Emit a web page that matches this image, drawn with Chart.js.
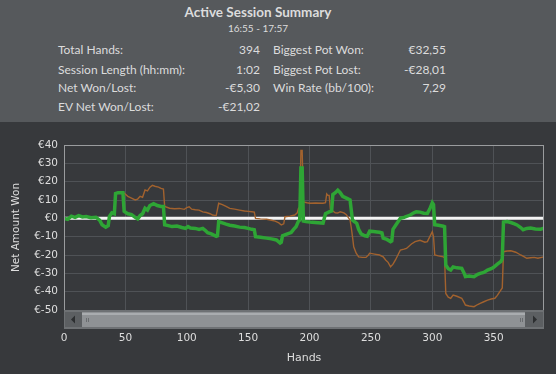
<!DOCTYPE html>
<html>
<head>
    <meta charset="utf-8" />
    <title>Active Session Summary</title>
    <script src="https://cdn.jsdelivr.net/npm/chart.js"></script>
    <style>
        body {
            margin: 0;
            width: 556px;
            height: 374px;
            background-color: #37393c;
            overflow: hidden;
        }
        .header {
            position: relative;
            height: 122px;
            background-color: #56595c;
            font-family: Lato, "Open Sans", sans-serif;
            color: #dcdcdc;
        }
        .header span {
            position: absolute;
            white-space: nowrap;
            line-height: 1;
        }
        .title {
            left: 0;
            width: 516px;
            top: 6px;
            text-align: center;
            font-weight: bold;
            font-size: 13.5px;
        }
        .subtitle {
            left: 0;
            width: 516px;
            top: 23px;
            text-align: center;
            font-size: 10px;
        }
        .lbl { font-size: 12px; }
        .val { font-size: 12px; text-align: right; }
        .chart-box {
            position: relative;
            width: 556px;
            height: 252px;
        }
    </style>
</head>
<body>
    <div class="header">
        <span class="title">Active Session Summary</span>
        <span class="subtitle">16:55 - 17:57</span>

        <span class="lbl" style="left:58px;top:44px">Total Hands:</span>
        <span class="val" style="right:296px;top:44px">394</span>
        <span class="lbl" style="left:58px;top:64px">Session Length (hh:mm):</span>
        <span class="val" style="right:296px;top:64px">1:02</span>
        <span class="lbl" style="left:58px;top:82px">Net Won/Lost:</span>
        <span class="val" style="right:296px;top:82px">-€5,30</span>
        <span class="lbl" style="left:58px;top:101px">EV Net Won/Lost:</span>
        <span class="val" style="right:296px;top:101px">-€21,02</span>

        <span class="lbl" style="left:273px;top:44px">Biggest Pot Won:</span>
        <span class="val" style="right:110px;top:44px">€32,55</span>
        <span class="lbl" style="left:273px;top:64px">Biggest Pot Lost:</span>
        <span class="val" style="right:110px;top:64px">-€28,01</span>
        <span class="lbl" style="left:273px;top:82px">Win Rate (bb/100):</span>
        <span class="val" style="right:110px;top:82px">7,29</span>
    </div>
    <div class="chart-box">
        <canvas id="sessionChart" width="556" height="252"></canvas>
    </div>
    <script>
        // tick labels
        const xTicks = [0, 50, 100, 150, 200, 250, 300, 350];
        const yTicks = [40, 30, 20, 10, 0, -10, -20, -30, -40, -50];
        const maxHand = 391;

        // net amount won, sampled from the graph (hand number / euros)
        const netHands = [0, 3, 6, 9, 12, 15, 18, 22, 26, 29, 31, 34, 36, 37, 39, 41, 42, 44, 48, 49,
            52, 55, 58, 60, 62, 64, 66, 68, 70, 73, 76, 79, 81, 82, 85, 88, 92, 96, 99, 101,
            103, 107, 110, 113, 115, 117, 120, 124, 125, 126, 129, 132, 135, 139, 143, 147, 150, 153, 155, 156,
            160, 165, 169, 173, 176, 177, 178, 182, 185, 187, 189, 191, 192, 193, 194, 195, 197, 202, 207, 211,
            213, 216, 218, 219, 221, 223, 225, 227, 230, 233, 235, 237, 238.5, 240, 242, 245, 247, 249, 252, 255,
            257, 259, 260, 263, 266, 267, 268, 271, 274, 277, 282, 285, 287, 290, 293, 296, 298, 300, 301, 302,
            305, 309, 310, 311, 313, 315, 317, 320, 324, 326, 327, 330, 334, 337, 339, 342, 345, 348, 350, 353,
            356, 357, 358, 361, 364, 367, 369, 372, 374, 377, 380, 384, 388, 391];
        const netWon = [0, -0.5, 1.2, 0.5, 1.5, 0.8, 1, 0.3, 0.6, -1, -3.5, -4.8, -4, 1, 3, 2.5, 13.5, 14, 14, 3.8,
            2.5, 2, 0.5, -0.3, 1.5, 2.5, 5.5, 4.5, 7, 8, 7, 6.5, 6.5, -3.5, -4, -4.5, -4.2, -5, -5.5, -4.5,
            -5.3, -5.5, -6, -5.5, -6.5, -7.8, -8.5, -9.8, -9.5, -1.8, -2.5, -3.2, -3.8, -4.2, -4.8, -5, -5.5, -6, -6.2, -10,
            -10.3, -10.8, -11.2, -11.8, -13.5, -13, -9.5, -8.5, -7.8, -6, -4.6, -1.5, -1, 27.5, 27.5, -1.5, -1.8, -2.2, -2.4, -2.6,
            2.5, 3.5, 4, 13, 14, 15.3, 14, 12, 11, 10, -1, -2, -2.8, -6, -8.5, -9.5, -9.8, -7, -7.2, -7.4,
            -7.6, -8, -10.8, -11.5, -12.7, -12.3, -6, -3, 0, 0.5, 1.8, 3, 3.6, 3.4, 2.8, 2.7, 5.2, 8.5, 7.5, -3.5,
            -3.8, -4.3, -4.6, -25.5, -27.5, -28.2, -26.5, -27, -27.3, -30, -31.8, -31.5, -31.8, -30.5, -30, -29.5, -28.2, -27.5, -26.7, -25,
            -23.5, -22, -2, -1.8, -2.3, -3, -3.6, -5, -6.2, -5.5, -5.3, -5.8, -6, -5.3];

        // EV net amount won
        const evHands = [0, 3, 6, 9, 12, 15, 18, 22, 26, 29, 31, 34, 36, 37, 39, 41, 42, 44, 48, 49,
            52, 55, 58, 60, 62, 64, 66, 68, 70, 72, 74, 77, 79, 81, 82, 86, 90, 94, 98, 100,
            102, 104, 107, 110, 113, 116, 119, 121, 124, 126, 129, 132, 135, 139, 143, 147, 150, 153, 155, 156,
            160, 165, 168, 172, 175, 177, 179, 180, 184, 188, 190, 191, 192, 193, 194, 195, 198, 200, 205, 211,
            213, 214, 215, 216, 217, 219, 221, 223, 225, 228, 230, 233, 234, 235, 236, 238, 240, 243, 246, 248,
            249, 253, 257, 260, 262, 264, 266, 268, 270, 272, 274, 277, 279, 283, 286, 290, 294, 296, 298, 300,
            301, 302, 305, 309, 310, 311, 313, 315, 317, 320, 324, 326, 327, 330, 334, 337, 339, 342, 345, 348,
            351, 353, 355, 357, 358, 361, 364, 368, 372, 375, 377, 380, 383, 386, 391];
        const evWon = [0, -0.5, 1.2, 0.5, 1.5, 0.8, 1, 0.3, 0.6, -1, -3.5, -4.8, -4, 1, 3, 2.5, 13.5, 14, 14, 13.8,
            12, 11, 10, 10.5, 12, 11.5, 15.5, 15, 17, 18, 17.5, 17, 16.3, 16, 6.5, 5.5, 5.2, 5.4, 4.9, 5.8,
            6.3, 5, 4.7, 4.5, 3.5, 3.2, 2.5, 1.8, 1.5, 8.2, 7.5, 6.5, 5.4, 5, 4.5, 4, 3.8, 3.6, 3.4, 0,
            -0.3, -0.5, -0.9, -1.5, -2.5, -3.6, -3, 0.9, 1.2, 1.8, 3, 5.4, 6, 37, 37, 9, 8.5, 8.2, 8.4, 8.2,
            8.5, 13.3, 12.5, 12.5, 5, 4, 3, 2.9, 3.6, 3, 2, -0.9, -5, -10, -15.5, -19, -21, -21.3, -21.3, -20,
            -19, -19.5, -20, -21, -22.7, -24, -26.4, -25, -22.7, -20, -17.3, -16.8, -16.4, -14, -12.7, -12, -13, -12.7, -10, -7.3,
            -10, -20, -20.5, -21, -21.5, -41, -43, -43.6, -41.8, -42.5, -43.6, -46, -47.3, -47.8, -48.2, -47, -46.4, -45.5, -44.6, -44,
            -43.6, -42, -40, -38, -18.2, -17.8, -17.7, -18.5, -20, -21, -21.8, -21.5, -21.3, -21.8, -21];

        const toPoints = (xs, ys) => xs.map((x, i) => ({ x: x, y: ys[i] }));

        // scrollbar + plot frame, drawn around the chart area
        const scrollbarPlugin = {
            id: 'scrollbar',
            afterDraw(chart) {
                const { ctx, chartArea: a } = chart;
                const top = a.bottom;
                const h = 19;
                ctx.save();
                // frame
                ctx.strokeStyle = '#9a9c9e';
                ctx.lineWidth = 1;
                ctx.strokeRect(a.left + 0.5, a.top + 0.5, a.right - a.left - 1, a.bottom - a.top);
                // track
                ctx.fillStyle = '#6e7174';
                ctx.fillRect(a.left, top, a.right - a.left, h);
                // buttons
                ctx.fillStyle = '#5c5f62';
                ctx.fillRect(a.left + 1, top + 2, 17, h - 4);
                ctx.fillRect(a.right - 19, top + 2, 18, h - 4);
                // thumb
                ctx.fillStyle = '#8f9295';
                ctx.fillRect(a.left + 18, top + 2, a.right - a.left - 37, h - 4);
                ctx.fillStyle = '#a9acaf';
                ctx.fillRect(a.left + 18, top + 3, a.right - a.left - 37, 2);
                // grips
                ctx.strokeStyle = '#6a6d70';
                [a.left + 22, a.right - 24].forEach(gx => {
                    ctx.beginPath();
                    ctx.moveTo(gx + 0.5, top + 8); ctx.lineTo(gx + 0.5, top + 12);
                    ctx.moveTo(gx + 2.5, top + 8); ctx.lineTo(gx + 2.5, top + 12);
                    ctx.stroke();
                });
                // arrows
                ctx.fillStyle = '#2c2e30';
                const cy = top + h / 2;
                ctx.beginPath();
                ctx.moveTo(a.left + 7, cy); ctx.lineTo(a.left + 11, cy - 4); ctx.lineTo(a.left + 11, cy + 4);
                ctx.fill();
                ctx.beginPath();
                ctx.moveTo(a.right - 7, cy); ctx.lineTo(a.right - 11, cy - 4); ctx.lineTo(a.right - 11, cy + 4);
                ctx.fill();
                ctx.restore();
            }
        };

        const labelColor = '#dedede';
        const gridColor = '#4f5256';

        new Chart(document.getElementById('sessionChart'), {
            type: 'line',
            data: {
                datasets: [
                    {
                        label: 'Net Won',
                        data: toPoints(netHands, netWon),
                        borderColor: '#2ea535',
                        borderWidth: 3.5,
                        order: 1
                    },
                    {
                        label: 'EV Net Won',
                        data: toPoints(evHands, evWon),
                        borderColor: '#a2622e',
                        borderWidth: 1.4,
                        order: 2
                    },
                    {
                        label: 'Zero',
                        data: toPoints([0, maxHand], [0, 0]),
                        borderColor: '#f4f4f4',
                        borderWidth: 3,
                        order: 3
                    }
                ]
            },
            options: {
                responsive: false,
                animation: false,
                layout: { padding: { top: 23, right: 12, left: 0, bottom: 0 } },
                elements: {
                    point: { radius: 0 },
                    line: { tension: 0 }
                },
                plugins: {
                    legend: { display: false },
                    tooltip: { enabled: false }
                },
                scales: {
                    x: {
                        type: 'linear',
                        min: 0,
                        max: maxHand,
                        afterBuildTicks: s => { s.ticks = xTicks.map(v => ({ value: v })); },
                        afterFit: s => { s.height = 64; },
                        grid: { color: gridColor, drawTicks: false },
                        border: { display: false },
                        ticks: {
                            color: labelColor,
                            padding: 22,
                            maxRotation: 0,
                            font: { family: 'DejaVu Sans', size: 10.5 }
                        },
                        title: {
                            display: true,
                            text: 'Hands',
                            color: labelColor,
                            padding: { top: 0, bottom: 9 },
                            font: { family: 'DejaVu Sans', size: 11 }
                        }
                    },
                    y: {
                        min: -50,
                        max: 40,
                        afterBuildTicks: s => { s.ticks = yTicks.map(v => ({ value: v })); },
                        afterFit: s => { s.width = 64; },
                        grid: { color: gridColor, drawTicks: false },
                        border: { display: false },
                        ticks: {
                            color: labelColor,
                            padding: 6,
                            font: { family: 'DejaVu Sans', size: 10.5 },
                            callback: v => '€' + v
                        },
                        title: {
                            display: true,
                            text: 'Net Amount Won',
                            color: labelColor,
                            padding: { top: 10, bottom: 0 },
                            font: { family: 'DejaVu Sans', size: 10.5 }
                        }
                    }
                }
            },
            plugins: [scrollbarPlugin]
        });
    </script>
</body>
</html>
